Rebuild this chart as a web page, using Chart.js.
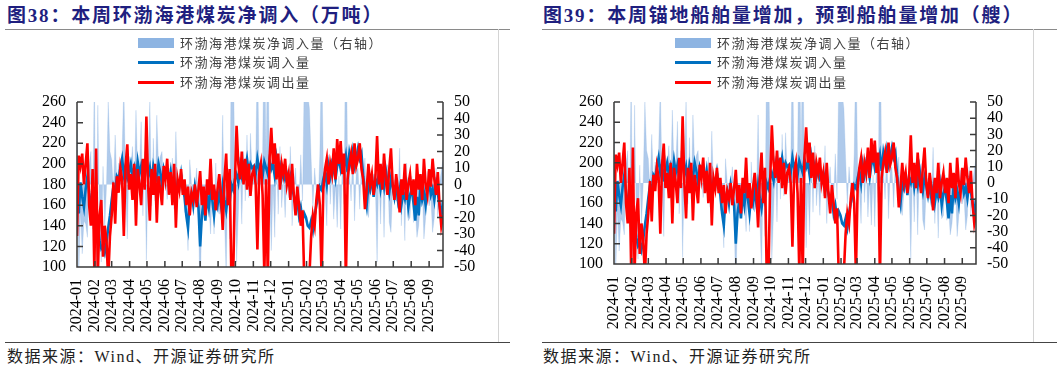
<!DOCTYPE html>
<html>
<head>
<meta charset="utf-8">
<script src="https://cdn.jsdelivr.net/npm/chart.js@4.4.1/dist/chart.umd.min.js"></script>
<style>
  html, body { margin: 0; padding: 0; background: #fff; }
  body { width: 1057px; height: 371px; position: relative; overflow: hidden; }
  .title { position: absolute; top: 5px; font-family: "Liberation Serif", "Noto Sans CJK SC", serif; font-weight: bold; font-size: 19px; line-height: 22px; letter-spacing: 1.8px; color: #1F1F7F; white-space: nowrap; }
  .hline { position: absolute; height: 1px; background: #8a8a8a; }
  .vline { position: absolute; width: 1px; background: #d4d4d4; }
  .src { position: absolute; top: 348px; font-family: "Liberation Serif", "Noto Sans CJK SC", serif; font-size: 16px; line-height: 18px; letter-spacing: 1.5px; color: #222; white-space: nowrap; }
  canvas { position: absolute; top: 30px; }
  .lg { position: absolute; font-family: "Noto Sans CJK SC", sans-serif; font-size: 13px; line-height: 16px; letter-spacing: 1.5px; color: #404040; white-space: nowrap; }
  .sw { position: absolute; width: 36px; }
</style>
</head>
<body>
<div class="title" style="left:7px">图38：本周环渤海港煤炭净调入（万吨）</div>
<div class="hline" style="left:5px; top:29px; width:505px"></div>
<div class="vline" style="left:498px; top:29px; height:313px"></div>
<div class="hline" style="left:5px; top:342px; width:505px; background:#444"></div>
<div class="src" style="left:7px">数据来源：Wind、开源证券研究所</div>
<canvas id="c1" width="497" height="310" style="left:0px"></canvas>
<div id="lg1"></div>

<div class="title" style="left:543px">图39：本周锚地船舶量增加，预到船舶量增加（艘）</div>
<div class="hline" style="left:542px; top:29px; width:515px"></div>
<div class="vline" style="left:1033px; top:29px; height:313px"></div>
<div class="hline" style="left:542px; top:342px; width:515px; background:#444"></div>
<div class="src" style="left:543px">数据来源：Wind、开源证券研究所</div>
<canvas id="c2" width="497" height="310" style="left:536px"></canvas>
<div id="lg2"></div>

<script>
// ---------- data ----------
const monthLabels = ['2024-01','2024-02','2024-03','2024-04','2024-05','2024-06','2024-07','2024-08','2024-09','2024-10','2024-11','2024-12','2025-01','2025-02','2025-03','2025-04','2025-05','2025-06','2025-07','2025-08','2025-09'];
const startDate = '2024-01-01';
const stepDays = 3; // one reading every 3 days
const seriesNames = ['环渤海港煤炭净调入量（右轴）', '环渤海港煤炭调入量', '环渤海港煤炭调出量'];

// 环渤海港煤炭调入量 (万吨)
const inflow = [
  178,152,182,168,158,176,188,172,160,168,
  165,152,140,126,118,121,114,124,138,150,
  165,178,172,188,185,196,205,190,198,186,
  192,200,188,196,185,202,190,198,186,195,
  200,188,196,182,198,190,185,200,192,180,195,
  188,196,180,192,176,185,170,182,178,190,
  176,168,150,138,165,172,160,178,168,158,
  120,150,162,145,170,158,175,165,150,168,160,
  172,160,178,165,155,170,162,180,175,185,
  190,182,198,188,200,195,205,192,200,196,
  198,190,205,195,200,188,202,196,190,204,
  195,200,188,205,192,198,186,194,185,190,
  182,188,175,170,160,165,150,158,145,152,148,
  140,138,145,136,150,160,168,178,175,
  185,192,180,198,188,200,194,185,198,205,
  195,205,198,208,192,210,200,212,198,206,
  215,205,210,188,172,160,180,175,190,168,185,
  180,190,176,188,178,194,182,172,186,178,
  168,180,165,175,160,172,166,178,158,170,
  175,162,145,168,150,180,165,172,160,178,
  182,170,176,165,180,172,160,148,165
];

// 环渤海港煤炭调出量 (万吨)
const outflow = [
  130,208,198,210,180,200,220,160,140,195,
  95,215,92,150,165,110,140,125,88,130,
  150,182,142,188,172,196,185,130,198,219,
  175,190,165,200,140,195,180,160,205,175,
  246,180,145,195,170,200,143,188,175,160,198,
  185,205,170,192,160,200,138,185,175,195,
  170,185,160,178,150,172,165,180,158,175,
  193,160,178,150,185,170,205,165,180,155,175,
  190,170,136,185,210,160,195,90,85,180,
  237,200,185,212,180,205,175,200,169,190,
  195,180,117,190,200,170,92,185,88,205,
  235,200,220,185,210,175,200,190,205,180,
  190,165,200,170,150,178,160,140,155,88,80,
  85,92,130,150,140,165,180,160,90,
  175,195,205,180,200,190,215,185,224,200,
  222,190,210,85,185,200,210,190,220,198,
  205,220,195,185,156,175,200,180,190,170,185,
  227,180,200,175,210,185,170,195,215,180,
  165,190,175,153,185,170,200,165,180,190,
  170,185,160,200,175,190,165,205,180,170,
  195,178,205,185,170,192,160,140,150
];

// 净调入量 = 调入量 - 调出量 (右轴)
const netInflow = inflow.map((v, i) => v - outflow[i]);

// ---------- derived scale positions ----------
const t0 = Date.parse(startDate + 'T00:00:00Z');
const monthDays = monthLabels.map(l => (Date.parse(l + '-01T00:00:00Z') - t0) / 86400000);
const toPts = arr => arr.map((v, i) => ({ x: i * stepDays, y: v }));

const colors = { net: 'rgba(141,180,226,0.7)', netLegend: '#8DB4E2', inflow: '#0070C0', outflow: '#FF0000', axis: '#3a3a3a' };

const inwardAxes = {
  id: 'inwardAxes',
  afterDatasetsDraw(chart) {
    const { ctx, chartArea: a, scales } = chart;
    ctx.save();
    ctx.strokeStyle = colors.axis;
    ctx.lineWidth = 1.5;
    ctx.beginPath();
    ctx.moveTo(a.left, a.top); ctx.lineTo(a.left, a.bottom); ctx.lineTo(a.right, a.bottom); ctx.lineTo(a.right, a.top);
    scales.y.ticks.forEach(t => { const p = scales.y.getPixelForValue(t.value); ctx.moveTo(a.left, p); ctx.lineTo(a.left + 6, p); });
    scales.y1.ticks.forEach(t => { const p = scales.y1.getPixelForValue(t.value); ctx.moveTo(a.right - 6, p); ctx.lineTo(a.right, p); });
    scales.x.ticks.forEach(t => { const p = scales.x.getPixelForValue(t.value); ctx.moveTo(p, a.bottom); ctx.lineTo(p, a.bottom - 6); });
    ctx.stroke();
    ctx.restore();
  }
};

const tickFont = { family: '"Liberation Serif", "Times New Roman", serif', size: 16 };

function makeChart(id, box) {
  return new Chart(document.getElementById(id), {
    type: 'line',
    data: {
      datasets: [
        { label: seriesNames[2], data: toPts(outflow), yAxisID: 'y', borderColor: colors.outflow, borderWidth: 2.6, pointRadius: 0, tension: 0, order: 0 },
        { label: seriesNames[1], data: toPts(inflow), yAxisID: 'y', borderColor: colors.inflow, borderWidth: 2.6, pointRadius: 0, tension: 0, order: 1 },
        { label: seriesNames[0], data: toPts(netInflow), yAxisID: 'y1', borderColor: 'rgba(141,180,226,0.5)', borderWidth: 0.5, backgroundColor: colors.net, fill: 'origin', pointRadius: 0, tension: 0, order: 2 }
      ]
    },
    options: {
      responsive: false,
      animation: false,
      devicePixelRatio: 1,
      layout: { padding: { top: box.top, left: 0, right: 0, bottom: 0 } },
      plugins: { legend: { display: false }, tooltip: { enabled: false } },
      scales: {
        x: {
          type: 'linear', min: 0, max: box.maxDay,
          grid: { display: false, drawTicks: false }, border: { display: false },
          afterBuildTicks: s => { s.ticks = monthDays.map(d => ({ value: d })); },
          afterFit: s => { s.height = box.xh; },
          ticks: {
            autoSkip: false, minRotation: 90, maxRotation: 90, padding: 12,
            color: '#000', font: tickFont,
            callback: v => { const k = monthDays.indexOf(v); return k >= 0 ? monthLabels[k] : ''; }
          }
        },
        y: {
          position: 'left', min: 100, max: 260,
          grid: { display: false, drawTicks: false }, border: { display: false },
          afterFit: s => { s.width = box.lw; },
          ticks: { stepSize: 20, autoSkip: false, padding: 11, color: '#000', font: tickFont }
        },
        y1: {
          position: 'right', min: -50, max: 50,
          grid: { display: false, drawTicks: false }, border: { display: false },
          afterFit: s => { s.width = box.rw; },
          ticks: { stepSize: 10, autoSkip: false, padding: 11, color: '#000', font: tickFont }
        }
      }
    },
    plugins: [inwardAxes]
  });
}

function makeLegend(id, left) {
  const el = document.getElementById(id);
  const items = [
    { name: seriesNames[0], top: 38, h: 10, c: colors.netLegend, ty: 35 },
    { name: seriesNames[1], top: 61, h: 2.5, c: colors.inflow, ty: 54 },
    { name: seriesNames[2], top: 81, h: 2.5, c: colors.outflow, ty: 74 }
  ];
  items.forEach(it => {
    const sw = document.createElement('div');
    sw.className = 'sw';
    sw.style.cssText = `left:${left}px;top:${it.top}px;height:${it.h}px;background:${it.c}`;
    el.appendChild(sw);
    const tx = document.createElement('div');
    tx.className = 'lg';
    tx.style.cssText = `left:${left + 42}px;top:${it.ty}px`;
    tx.textContent = it.name;
    el.appendChild(tx);
  });
}

// left panel: plot x 77..443, y 102..267 ; right panel: plot x 614..976, y 102..264
makeChart('c1', { top: 72, lw: 77, rw: 54, xh: 73, maxDay: 633 });
makeChart('c2', { top: 72, lw: 78, rw: 57, xh: 76, maxDay: 633 });
makeLegend('lg1', 138);
makeLegend('lg2', 675);
</script>
</body>
</html>
